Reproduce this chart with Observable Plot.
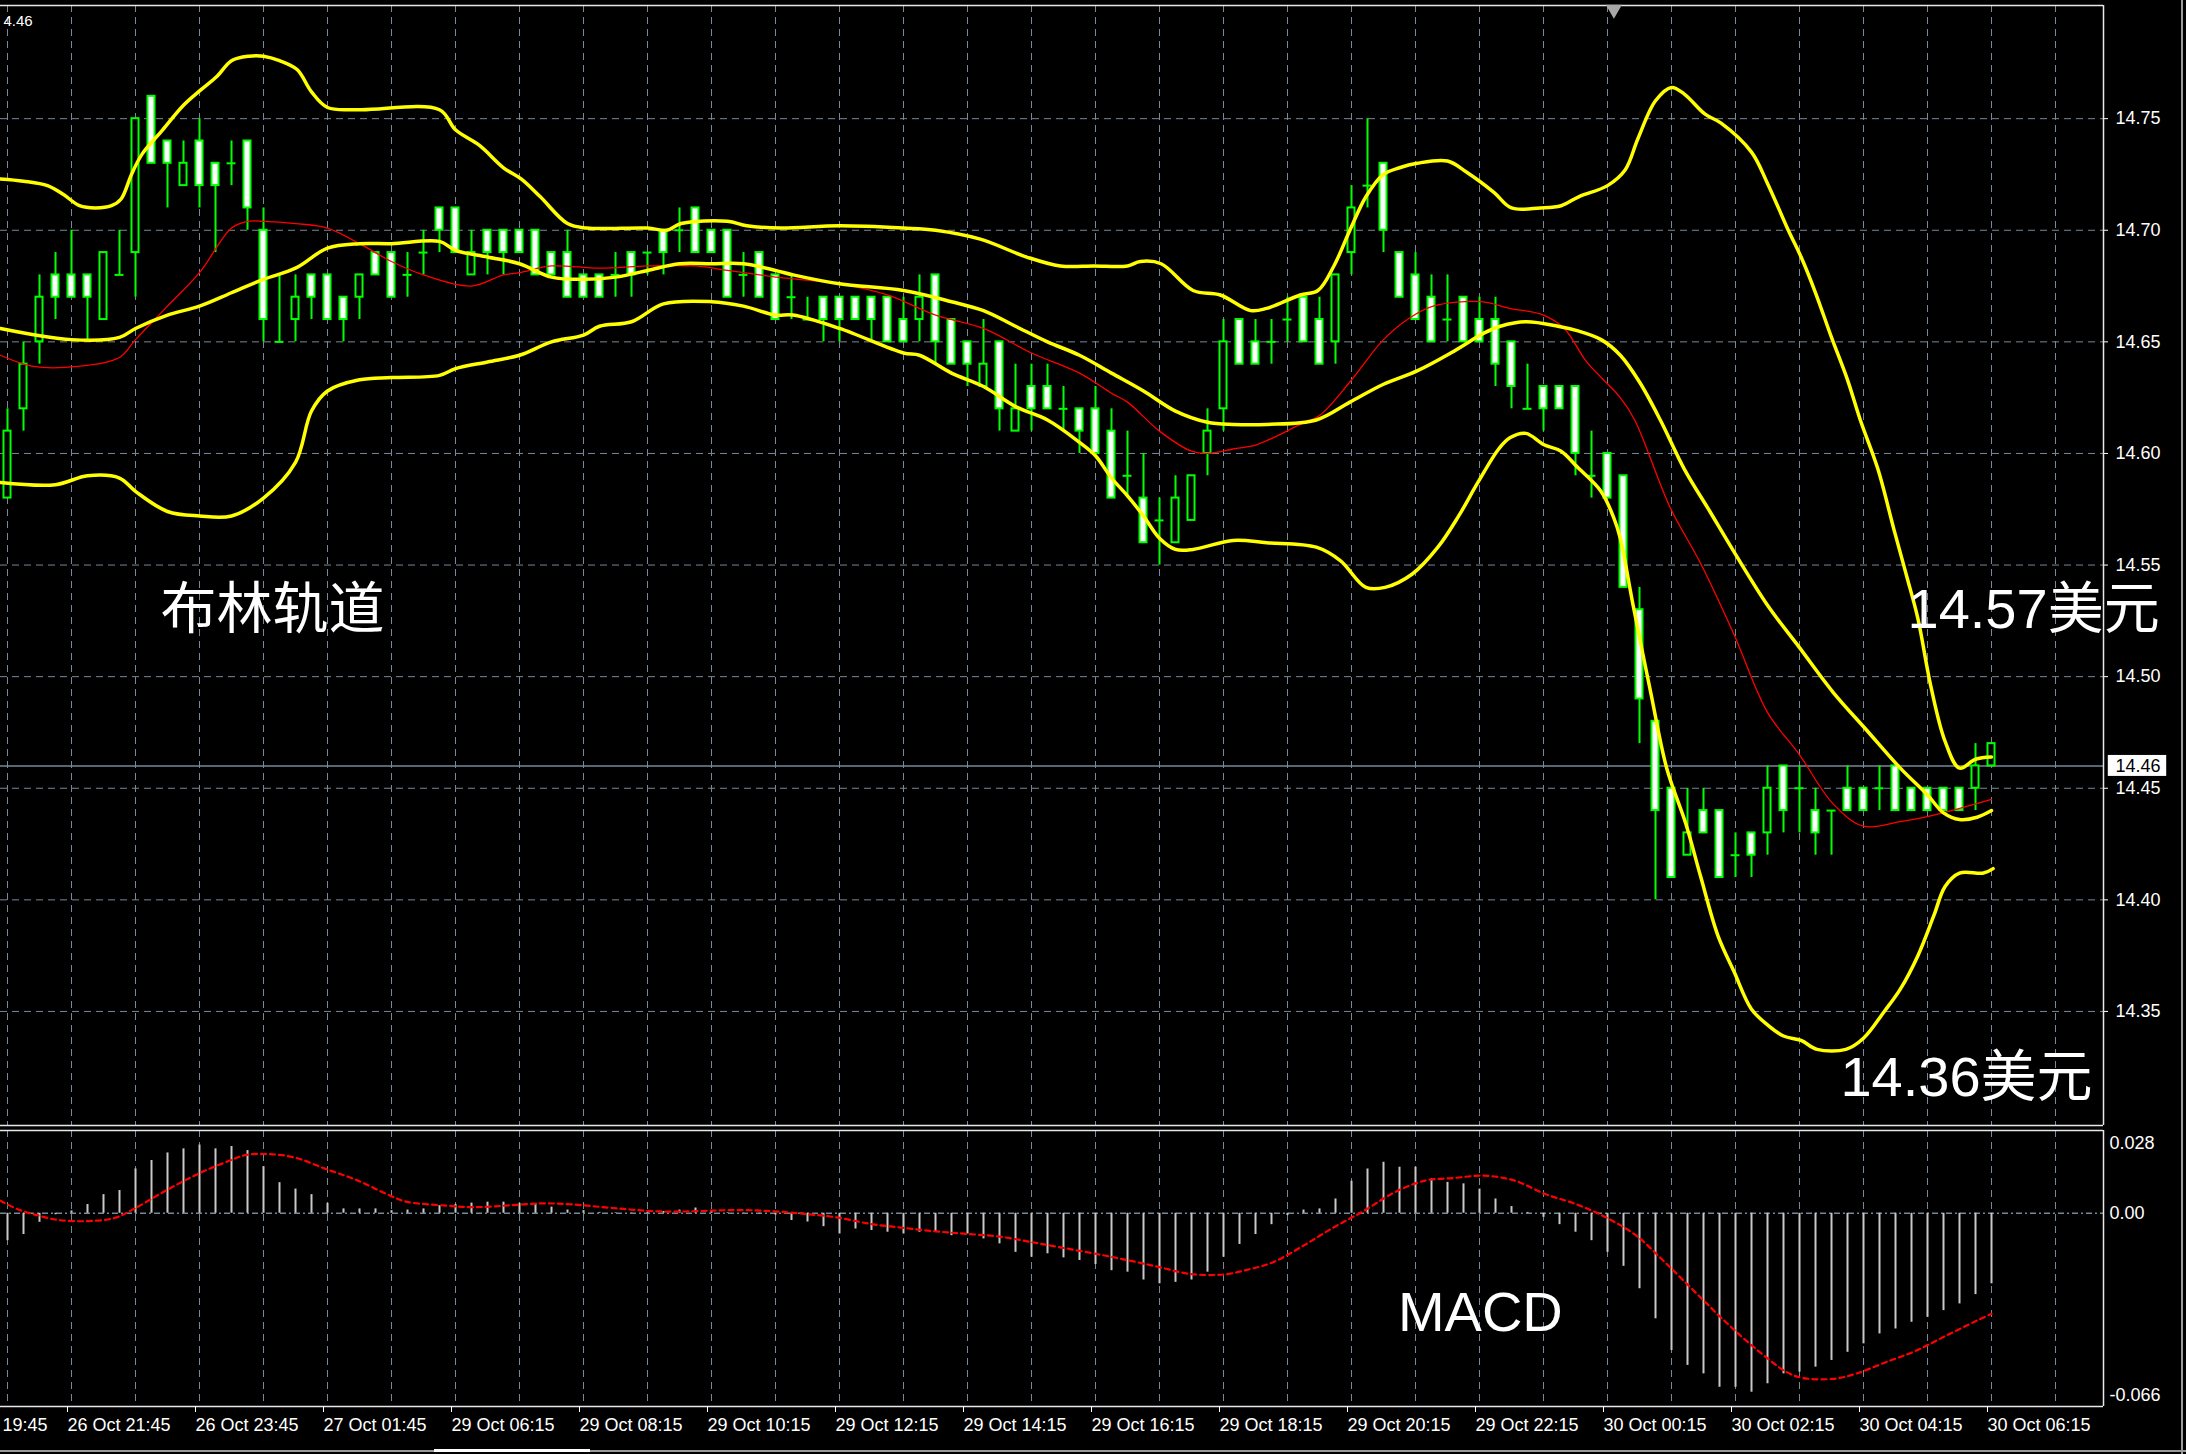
<!DOCTYPE html>
<html>
<head>
<meta charset="utf-8">
<script src="https://cdn.jsdelivr.net/npm/d3@7"></script>
<script src="https://cdn.jsdelivr.net/npm/@observablehq/plot@0.6"></script>
<style>
  html, body { margin: 0; padding: 0; background: #000; }
  body { width: 2186px; height: 1454px; position: relative; overflow: hidden; }
  #main { position: absolute; left: 0; top: 0; }
  #macd { position: absolute; left: 0; top: 1127px; }
  .winline { position: absolute; background: #9a9a9a; }
</style>
</head>
<body>
<div id="main"></div>
<div id="macd"></div>
<div class="winline" style="left:2181px;top:0;width:2px;height:1454px;"></div>
<div class="winline" style="left:0;top:1450px;width:2186px;height:2px;"></div>
<div class="winline" style="left:434px;top:1449px;width:156px;height:3px;background:#fff;"></div>
<script>
// ---------- DATA (15-minute candles, index 0..124) ----------
const open  = [14.58,14.62,14.65,14.68,14.68,14.68,14.66,14.68,14.69,14.76,14.74,14.72,14.74,14.73,14.73,14.74,14.70,14.65,14.66,14.68,14.68,14.67,14.67,14.69,14.69,
               14.68,14.69,14.71,14.71,14.68,14.70,14.70,14.70,14.70,14.69,14.69,14.68,14.68,14.68,14.69,14.69,14.70,14.70,14.71,14.70,14.70,14.68,14.69,14.68,14.67,
               14.66,14.67,14.67,14.67,14.67,14.67,14.66,14.66,14.68,14.66,14.65,14.63,14.65,14.61,14.63,14.63,14.62,14.62,14.62,14.61,14.59,14.58,14.57,14.56,14.57,
               14.60,14.62,14.66,14.65,14.65,14.66,14.67,14.66,14.65,14.69,14.72,14.73,14.69,14.68,14.67,14.66,14.67,14.66,14.66,14.65,14.62,14.63,14.63,14.63,14.59,
               14.60,14.59,14.53,14.48,14.45,14.42,14.44,14.44,14.42,14.43,14.43,14.46,14.45,14.44,14.44,14.45,14.45,14.45,14.46,14.45,14.45,14.45,14.45,14.45,14.46];
const high  = [14.62,14.65,14.68,14.69,14.70,14.68,14.69,14.70,14.75,14.76,14.74,14.74,14.75,14.73,14.74,14.74,14.71,14.68,14.68,14.68,14.68,14.67,14.68,14.69,14.69,
               14.69,14.70,14.71,14.71,14.70,14.70,14.70,14.70,14.70,14.69,14.70,14.68,14.68,14.69,14.69,14.69,14.70,14.71,14.71,14.70,14.70,14.69,14.69,14.68,14.68,
               14.67,14.67,14.67,14.67,14.67,14.67,14.67,14.68,14.68,14.66,14.65,14.66,14.65,14.64,14.64,14.64,14.63,14.62,14.63,14.62,14.61,14.60,14.58,14.59,14.59,
               14.62,14.66,14.66,14.66,14.66,14.67,14.67,14.67,14.68,14.72,14.75,14.73,14.69,14.69,14.68,14.68,14.67,14.67,14.67,14.65,14.64,14.63,14.63,14.63,14.61,
               14.60,14.59,14.54,14.48,14.45,14.45,14.45,14.44,14.43,14.43,14.46,14.46,14.46,14.45,14.44,14.46,14.45,14.46,14.46,14.45,14.45,14.45,14.45,14.47,14.47];
const low   = [14.58,14.61,14.64,14.66,14.67,14.65,14.66,14.68,14.67,14.73,14.71,14.72,14.71,14.69,14.72,14.70,14.65,14.65,14.65,14.66,14.66,14.65,14.66,14.68,14.67,
               14.67,14.68,14.69,14.69,14.68,14.68,14.68,14.69,14.68,14.68,14.67,14.67,14.67,14.67,14.67,14.68,14.68,14.69,14.69,14.69,14.67,14.67,14.67,14.66,14.66,
               14.66,14.65,14.65,14.66,14.65,14.65,14.65,14.65,14.64,14.64,14.63,14.63,14.61,14.61,14.61,14.62,14.61,14.60,14.60,14.58,14.58,14.56,14.55,14.56,14.57,
               14.59,14.61,14.64,14.64,14.64,14.65,14.65,14.64,14.64,14.68,14.71,14.69,14.67,14.66,14.65,14.65,14.65,14.65,14.63,14.62,14.62,14.61,14.62,14.59,14.58,
               14.58,14.54,14.47,14.40,14.41,14.42,14.43,14.41,14.41,14.41,14.42,14.43,14.43,14.42,14.42,14.44,14.44,14.44,14.44,14.44,14.44,14.44,14.44,14.44,14.46];
const close = [14.61,14.64,14.67,14.67,14.67,14.67,14.69,14.68,14.75,14.73,14.73,14.73,14.72,14.72,14.73,14.71,14.66,14.65,14.67,14.67,14.66,14.66,14.68,14.68,14.67,
               14.68,14.69,14.70,14.69,14.69,14.69,14.69,14.69,14.68,14.68,14.67,14.67,14.67,14.68,14.68,14.69,14.69,14.70,14.69,14.69,14.67,14.68,14.67,14.66,14.67,
               14.66,14.66,14.66,14.66,14.66,14.65,14.65,14.67,14.65,14.64,14.64,14.64,14.62,14.62,14.62,14.62,14.62,14.61,14.60,14.58,14.59,14.56,14.57,14.58,14.59,
               14.61,14.65,14.64,14.64,14.65,14.66,14.65,14.64,14.68,14.71,14.72,14.70,14.67,14.66,14.65,14.66,14.65,14.65,14.64,14.63,14.62,14.62,14.62,14.60,14.59,
               14.58,14.54,14.49,14.44,14.41,14.43,14.43,14.41,14.42,14.42,14.45,14.44,14.45,14.43,14.44,14.44,14.44,14.45,14.44,14.44,14.44,14.44,14.44,14.46,14.47];

// Bollinger bands (upper / middle / lower) and red moving average: [bar index, price]
const upperBand = [[-0.44,14.723],[1,14.722],[2.5,14.720],[3.5,14.716],[4.5,14.711],[5.5,14.710],[6.5,14.711],[7.1,14.714],[7.75,14.725],[8.4,14.734],
  [9.7,14.745],[11,14.756],[12.1,14.763],[13.1,14.769],[14,14.776],[15.1,14.778],[16,14.778],[17,14.776],[18.1,14.772],[19,14.762],[20,14.755],[22,14.754],
  [27,14.754],[28,14.745],[29.5,14.738],[31,14.728],[32.1,14.723],[33.3,14.715],[35,14.703],[36.2,14.701],[40,14.701],[41.2,14.700],[42.1,14.703],[45,14.704],
  [46.2,14.702],[48.3,14.701],[52,14.702],[56,14.701],[58,14.700],[60.8,14.696],[63.7,14.688],[65.8,14.684],[67.9,14.684],[70,14.684],[70.8,14.686],[72.1,14.685],
  [74.1,14.673],[75.8,14.671],[77.7,14.664],[78.7,14.665],[80.8,14.671],[81.9,14.673],[82.9,14.684],[83.9,14.700],[84.9,14.715],[86,14.725],[87,14.728],
  [88.1,14.730],[90,14.731],[91.2,14.726],[92.9,14.717],[94,14.710],[95.8,14.710],[97.1,14.711],[98.2,14.715],[100,14.720],[101.1,14.727],[101.9,14.741],
  [103,14.758],[104,14.764],[104.8,14.761],[106.1,14.752],[107.1,14.748],[109,14.735],[110,14.721],[111.3,14.700],[112.1,14.688],[113,14.672],[114,14.652],
  [115,14.633],[115.8,14.615],[116.9,14.593],[117.9,14.566],[118.7,14.545],[119.4,14.526],[120.2,14.496],[121.1,14.471],[122,14.459],[123,14.463],[124,14.464]];
const middleBand = [[-0.44,14.656],[4,14.651],[7,14.652],[8,14.656],[10,14.662],[12,14.666],[14,14.672],[16,14.678],[18,14.683],[20,14.692],[22,14.694],[24,14.694],
  [27,14.695],[28,14.691],[30,14.688],[32,14.685],[34,14.679],[36,14.678],[38,14.679],[40,14.682],[42,14.685],[44,14.685],[46,14.685],[48,14.682],[49.1,14.680],
  [52,14.676],[56,14.673],[59,14.668],[61,14.664],[63,14.657],[65,14.650],[67,14.644],[69,14.636],[71,14.628],[73,14.619],[75,14.614],[76.6,14.613],[78.7,14.613],
  [81.8,14.615],[83.9,14.623],[86,14.631],[88.1,14.637],[90.2,14.645],[92.3,14.654],[93.3,14.657],[94.9,14.659],[96.9,14.657],[98.1,14.655],[99.6,14.651],
  [100.8,14.644],[102,14.632],[103.3,14.615],[104.8,14.593],[106.4,14.574],[107.9,14.556],[110,14.532],[112,14.513],[114.1,14.493],[116.2,14.476],[118.3,14.459],
  [120,14.447],[121,14.439],[122,14.436],[123.1,14.437],[124,14.440]];
const lowerBand = [[-0.44,14.587],[3,14.586],[5,14.590],[7,14.589],[8,14.583],[10,14.574],[12,14.572],[14,14.572],[16,14.580],[18,14.596],[19,14.619],[20,14.628],
  [22,14.633],[24,14.634],[27,14.635],[28,14.638],[30,14.641],[32,14.644],[34,14.650],[36,14.653],[37,14.657],[39,14.659],[41,14.667],[44,14.668],[46,14.666],
  [48,14.662],[49.1,14.662],[52,14.656],[56,14.645],[57,14.644],[59,14.636],[61,14.630],[63,14.621],[65,14.615],[67,14.605],[68,14.599],[69,14.589],[70,14.581],
  [71,14.572],[72,14.562],[73,14.557],[74.1,14.557],[76.6,14.561],[78.7,14.560],[81.8,14.558],[83.3,14.552],[84.9,14.540],[86.1,14.540],[87.8,14.546],[89.4,14.558],
  [90.7,14.572],[91.9,14.587],[93.2,14.602],[93.9,14.607],[94.9,14.609],[96,14.604],[97.1,14.601],[98.1,14.594],[99.6,14.583],[100.4,14.571],[100.8,14.562],
  [101.6,14.532],[102.7,14.493],[103.7,14.459],[104.9,14.434],[105.8,14.411],[106.9,14.384],[107.9,14.368],[109,14.351],[110,14.344],[111,14.339],[112.1,14.337],
  [113.1,14.333],[114.9,14.333],[116,14.338],[117.3,14.350],[118.3,14.360],[119.4,14.375],[120.4,14.393],[121.1,14.406],[122,14.412],[123.5,14.412],[124.1,14.414]];
const maLine = [[-0.44,14.644],[1.6,14.639],[4.4,14.639],[7,14.643],[8,14.651],[10,14.666],[12,14.681],[14,14.701],[15,14.704],[16,14.704],[18,14.703],[20,14.701],
  [22,14.694],[24,14.686],[26,14.680],[29,14.675],[31,14.680],[32,14.681],[34,14.684],[37,14.683],[40,14.684],[43,14.684],[45,14.682],[47,14.680],[48,14.679],
  [52,14.676],[55,14.671],[58,14.662],[61,14.656],[64,14.645],[67,14.636],[69,14.627],[70,14.623],[72,14.610],[74,14.601],[75,14.600],[76.6,14.602],[78.1,14.604],
  [80.8,14.613],[82,14.617],[83.9,14.632],[86,14.651],[87.7,14.661],[89.1,14.666],[92.1,14.668],[93.9,14.665],[96,14.662],[97.3,14.656],[98.7,14.641],[100.8,14.625],
  [101.7,14.615],[103.9,14.576],[105.8,14.551],[107.9,14.519],[110,14.484],[112,14.465],[114.1,14.443],[116,14.433],[118.3,14.435],[120.4,14.438],[122.5,14.442],[124,14.445]];

// MACD histogram (one value per bar) and signal line [bar index, value]
const macdHist = [-0.0094,-0.0073,-0.0031,-0.0005,0.0008,0.0030,0.0064,0.0078,0.0152,0.0181,0.0207,0.0221,0.0234,0.0221,0.0229,0.0215,0.0160,0.0105,0.0083,0.0064,
  0.0034,0.0015,0.0015,0.0015,0.0009,0.0011,0.0015,0.0026,0.0030,0.0035,0.0038,0.0038,0.0034,0.0032,0.0021,0.0011,0.0009,0.0003,0.0002,0.0001,
  0.0003,0.0006,0.0011,0.0018,0.0006,0.0002,0.0001,-0.0002,-0.0006,-0.0025,-0.0030,-0.0046,-0.0071,-0.0054,-0.0059,-0.0065,-0.0071,-0.0065,-0.0065,-0.0077,
  -0.0071,-0.0088,-0.0105,-0.0134,-0.0151,-0.0139,-0.0153,-0.0162,-0.0176,-0.0197,-0.0202,-0.0229,-0.0242,-0.0237,-0.0229,-0.0202,-0.0151,-0.0107,-0.0073,-0.0039,
  -0.0008,0.0011,0.0015,0.0049,0.0110,0.0152,0.0175,0.0158,0.0158,0.0118,0.0106,0.0101,0.0083,0.0049,0.0023,0.0003,-0.0014,-0.0039,-0.0065,-0.0094,
  -0.0134,-0.0182,-0.0259,-0.0362,-0.0471,-0.0522,-0.0551,-0.0597,-0.0597,-0.0614,-0.0585,-0.0551,-0.0545,-0.0528,-0.0505,-0.0477,-0.0448,-0.0414,-0.0397,-0.0374,
  -0.0357,-0.0334,-0.0311,-0.0279,-0.0242];
const macdSignal = [[-0.44,0.0043],[0.76,0.0011],[1.95,-0.0008],[3.15,-0.0023],[4.94,-0.0027],[6.7,-0.0016],[7.9,0.0015],[9.9,0.0078],[11.9,0.0135],[13.9,0.0181],
  [14.9,0.0200],[16.3,0.0203],[17.9,0.0192],[19.9,0.0152],[21.9,0.0112],[23.9,0.0061],[24.9,0.0040],[27.5,0.0026],[29.1,0.0021],[31.1,0.0026],[33.4,0.0034],
  [35.4,0.0030],[37.8,0.0018],[41,0.0006],[45.8,0.0011],[47.8,0.0007],[49.8,-0.0002],[51.8,-0.0014],[54,-0.0037],[56,-0.0050],[58,-0.0062],[60,-0.0071],
  [62,-0.0080],[64,-0.0099],[65.8,-0.0117],[68,-0.0139],[70.1,-0.0162],[72,-0.0185],[73.9,-0.0208],[76,-0.0210],[77.7,-0.0191],[79.1,-0.0168],[81,-0.0111],
  [82.9,-0.0048],[84.8,0.0009],[86.7,0.0072],[88.6,0.0112],[90.4,0.0121],[92.3,0.0129],[94.2,0.0112],[96.1,0.0066],[98,0.0032],[99.9,-0.0014],[101.8,-0.0077],
  [103.7,-0.0174],[105.6,-0.0277],[107.5,-0.0379],[109.4,-0.0471],[111.2,-0.0545],[112.2,-0.0565],[114.1,-0.0568],[115.5,-0.0551],[117.4,-0.0511],[119.3,-0.0471],
  [121.2,-0.0419],[123.1,-0.0368],[124,-0.0345]];

// Axis ticks and labels
const priceTicks = [14.35,14.40,14.45,14.50,14.55,14.60,14.65,14.70,14.75];
const gridBars = d3.range(0, 129, 4);
const firstTimeLabel = "19:45";
const timeTickBars = [4,12,20,28,36,44,52,60,68,76,84,92,100,108,116,124];
const timeTickLabels = ["26 Oct 21:45","26 Oct 23:45","27 Oct 01:45","29 Oct 06:15","29 Oct 08:15","29 Oct 10:15","29 Oct 12:15",
  "29 Oct 14:15","29 Oct 16:15","29 Oct 18:15","29 Oct 20:15","29 Oct 22:15","30 Oct 00:15","30 Oct 02:15","30 Oct 04:15","30 Oct 06:15"];
const macdAxisValues = [0.028, 0, -0.066];
const macdAxisLabels = ["0.028", "0.00", "-0.066"];
const lastPrice = 14.46;
const cornerLabel = "4.46";
const priceNotes = [
  {bar: 9.56, price: 14.530, text: "布林轨道"},
  {bar: 118.75, price: 14.530, text: "14.57美元"},
  {bar: 114.56, price: 14.320, text: "14.36美元"}
];
const macdNotes = [{bar: 86.9, value: -0.0344, text: "MACD"}];

// ---------- CHART ----------
const LIME = "#00ff00", GRID = "#778899", FRAME = "#e8e8e8";
const FONT = "'Liberation Sans', Arial, 'Noto Sans CJK SC', sans-serif";
const xDomain = [-0.4375, 131];
const yDomain = [14.2989, 14.8007];
const macdDomain = [-0.0663, 0.0284];

const candles = open.map((o, i) => ({i, o, h: high[i], l: low[i], c: close[i]}));
const bear = candles.filter(d => d.c < d.o);
const bull = candles.filter(d => d.c > d.o);
const doji = candles.filter(d => d.c === d.o);
const hist = macdHist.map((v, i) => ({i, v}));
const labelOf = new Map(timeTickBars.map((b, k) => [b, timeTickLabels[k]]));

const baseStyle = {background: "#000", color: "#fff", fontFamily: FONT, fontSize: "18px", overflow: "visible"};
const bandLine = (pts, stroke, w) => Plot.line(pts, {x: d => d[0], y: d => d[1], stroke, strokeWidth: w, curve: "catmull-rom"});

const main = Plot.plot({
  width: 2186, height: 1127,
  marginLeft: 0, marginRight: 83, marginTop: 5, marginBottom: 2,
  style: baseStyle,
  x: {domain: xDomain, axis: null},
  y: {domain: yDomain, axis: null},
  marks: [
    Plot.gridX(gridBars, {stroke: GRID, strokeOpacity: 1, strokeDasharray: "7,5"}),
    Plot.gridY(priceTicks, {stroke: GRID, strokeOpacity: 1, strokeDasharray: "7,5"}),
    Plot.ruleY([lastPrice], {stroke: GRID, strokeWidth: 1.5}),
    Plot.ruleX(candles, {x: "i", y1: "l", y2: "h", stroke: LIME, strokeWidth: 2}),
    Plot.rect(bear, {x1: d => d.i - 0.22, x2: d => d.i + 0.22, y1: "o", y2: "c", fill: "#fff", stroke: LIME, strokeWidth: 2}),
    Plot.rect(bull, {x1: d => d.i - 0.22, x2: d => d.i + 0.22, y1: "o", y2: "c", fill: "#000", stroke: LIME, strokeWidth: 2}),
    Plot.ruleY(doji, {y: "o", x1: d => d.i - 0.28, x2: d => d.i + 0.28, stroke: LIME, strokeWidth: 2}),
    bandLine(maLine, "#ff0000", 1.3),
    bandLine(upperBand, "#ffff00", 3.5),
    bandLine(middleBand, "#ffff00", 3.5),
    bandLine(lowerBand, "#ffff00", 3.5),
    Plot.ruleY([yDomain[1], yDomain[0]], {stroke: FRAME, strokeWidth: 1.5}),
    Plot.ruleX([xDomain[1]], {stroke: FRAME, strokeWidth: 1.5}),
    Plot.axisY(priceTicks, {anchor: "right", tickSize: 4, tickPadding: 8, tickFormat: d3.format(".2f"),
      fill: "#fff", stroke: "#fff", fontSize: 18, fontFamily: FONT}),
    Plot.rect([lastPrice], {x1: 131.3, x2: 134.95, y1: d => d - 0.0047, y2: d => d + 0.0047, fill: "#fff"}),
    Plot.text([lastPrice], {y: d => d, frameAnchor: "right", dx: 12, textAnchor: "start", text: d => d.toFixed(2),
      fill: "#000", fontSize: 18, fontFamily: FONT}),
    Plot.text([cornerLabel], {frameAnchor: "top-left", dx: 3, dy: 10, text: d => d, fill: "#fff", fontSize: 15, fontFamily: FONT, textAnchor: "start"}),
    Plot.dot([100.4], {x: d => d, frameAnchor: "top", dy: 4, symbol: "triangle", rotate: 180, r: 6, fill: "#a8a8a8", stroke: "none"}),
    Plot.text(priceNotes, {x: "bar", y: "price", text: "text", textAnchor: "start", fill: "#fff", fontSize: 56, fontFamily: FONT})
  ]
});
document.getElementById("main").appendChild(main);

const macd = Plot.plot({
  width: 2186, height: 327,
  marginLeft: 0, marginRight: 83, marginTop: 3, marginBottom: 48,
  style: baseStyle,
  x: {domain: xDomain, axis: null},
  y: {domain: macdDomain, axis: null},
  marks: [
    Plot.gridX(gridBars, {stroke: GRID, strokeOpacity: 1, strokeDasharray: "7,5"}),
    Plot.ruleY([0], {stroke: GRID, strokeWidth: 1.5, strokeDasharray: "6,3,2,3"}),
    Plot.ruleX(hist, {x: "i", y1: 0, y2: "v", stroke: "#c8c8c8", strokeWidth: 2}),
    Plot.line(macdSignal, {x: d => d[0], y: d => d[1], stroke: "#ff0000", strokeWidth: 2.2, strokeDasharray: "5,4", curve: "catmull-rom"}),
    Plot.ruleY([macdDomain[1], macdDomain[0]], {stroke: FRAME, strokeWidth: 1.5}),
    Plot.ruleX([xDomain[1]], {stroke: FRAME, strokeWidth: 1.5}),
    Plot.axisX(timeTickBars, {anchor: "bottom", tickSize: 6, tickPadding: 6, textAnchor: "start", dx: -4,
      tickFormat: d => labelOf.get(d), fill: "#fff", stroke: "#fff", fontSize: 18, fontFamily: FONT}),
    Plot.text([firstTimeLabel], {frameAnchor: "bottom-left", lineAnchor: "middle", dx: 2, dy: 19, textAnchor: "start", text: d => d, fill: "#fff", fontSize: 18, fontFamily: FONT}),
    Plot.text([0], {y: d => macdAxisValues[0], frameAnchor: "right", dx: 6, dy: 12, textAnchor: "start", text: d => macdAxisLabels[0], fill: "#fff", fontSize: 18, fontFamily: FONT}),
    Plot.text([1], {y: d => macdAxisValues[1], frameAnchor: "right", dx: 6, textAnchor: "start", text: d => macdAxisLabels[1], fill: "#fff", fontSize: 18, fontFamily: FONT}),
    Plot.text([2], {y: d => macdAxisValues[2], frameAnchor: "right", dx: 6, dy: -10, textAnchor: "start", text: d => macdAxisLabels[2], fill: "#fff", fontSize: 18, fontFamily: FONT}),
    Plot.text(macdNotes, {x: "bar", y: "value", text: "text", textAnchor: "start", fill: "#fff", fontSize: 56, fontFamily: FONT})
  ]
});
document.getElementById("macd").appendChild(macd);
</script>
</body>
</html>
